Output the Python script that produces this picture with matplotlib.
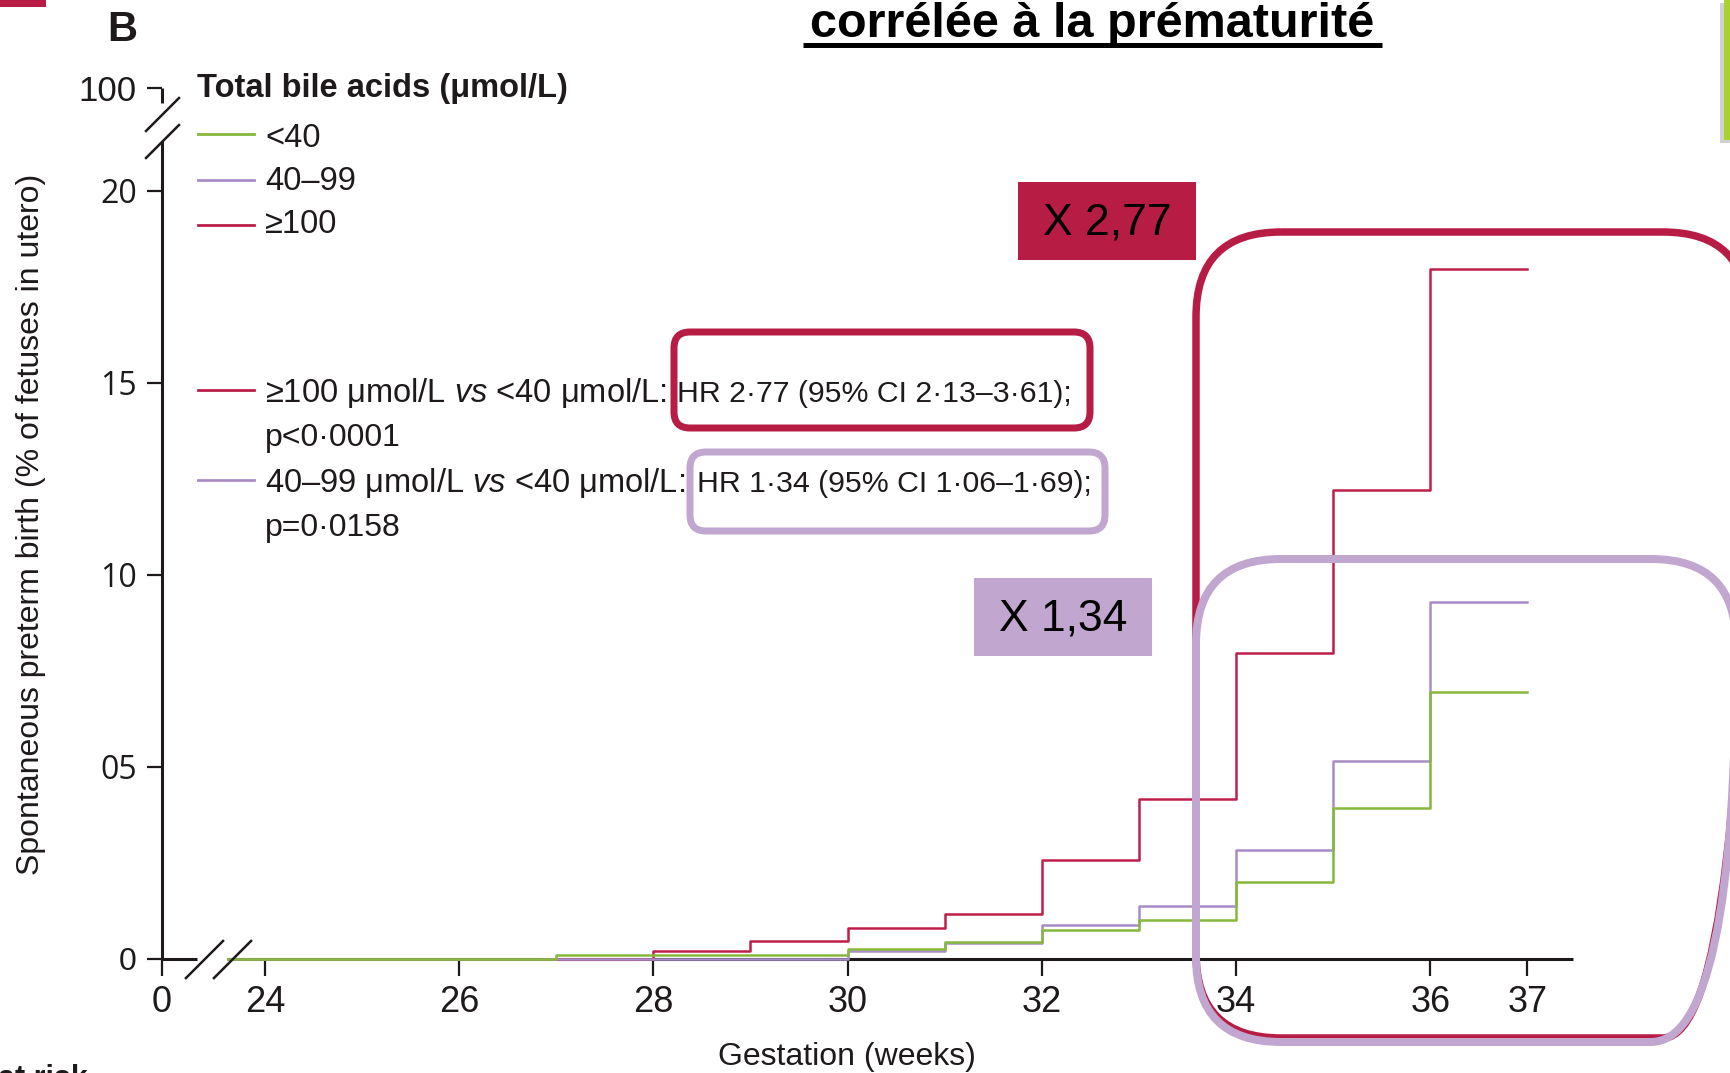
import matplotlib
matplotlib.use('Agg')
import matplotlib.pyplot as plt
from matplotlib.patches import FancyBboxPatch, Rectangle

plt.rcParams['font.family'] = ['Liberation Sans', 'DejaVu Sans']
plt.rcParams['mathtext.fontset'] = 'custom'
plt.rcParams['mathtext.it'] = 'Liberation Sans:italic'
plt.rcParams['mathtext.rm'] = 'Liberation Sans'

W, H = 1731, 1073

# --- données : % cumulé de prématurité spontanée par semaine de gestation ---
semaines_40 = [23.62, 27, 28, 29, 30, 31, 32, 33, 34, 35, 36, 37]
tba_40 = [0, 0.10, 0.10, 0.10, 0.26, 0.45, 0.75, 1.02, 2.01, 3.92, 6.96, 6.96]

semaines_40_99 = [23.62, 30, 31, 32, 33, 34, 35, 36, 37]
tba_40_99 = [0, 0.21, 0.42, 0.88, 1.38, 2.84, 5.16, 9.30, 9.30]

semaines_100 = [23.62, 27, 28, 29, 30, 31, 32, 33, 34, 35, 36, 37]
tba_100 = [0, 0, 0.21, 0.46, 0.80, 1.16, 2.58, 4.16, 7.96, 12.20, 17.96, 17.96]

groupes = ['<40', '40–99', '≥100']
couleurs = ['#86B83C', '#A88CC8', '#BF1E4A']

x_ticks = [22.94, 24, 26, 28, 30, 32, 34, 36, 37]
x_labels = ['0', '24', '26', '28', '30', '32', '34', '36', '37']
y_ticks = [0, 5, 10, 15, 20, 22.68]
y_labels = ['0', '05', '10', '15', '20', '100']

comparaisons = ['≥100 μmol/L $vs$ <40 μmol/L:', '40–99 μmol/L $vs$ <40 μmol/L:']
hazard_ratios = ['HR 2·77 (95% CI 2·13–3·61);', 'HR 1·34 (95% CI 1·06–1·69);']
p_valeurs = ['p<0·0001', 'p=0·0158']
ratios = ['X 2,77', 'X 1,34']

ROUGE = '#B71C45'
MAUVE = '#C1A6CF'
NOIR = '#1E1A1B'

fig = plt.figure(figsize=(W / 100, H / 100), dpi=100)

# ----------------------
# courbes de Kaplan-Meier
# ----------------------
ax = fig.add_axes([162 / W, 1 - 959 / H, (1573 - 162) / W, (959 - 88) / H])
ax.set_xlim(22.94, 37.47)
ax.set_ylim(0, 22.68)
ax.patch.set_alpha(0)
for s in ax.spines.values():
    s.set_visible(False)

ax.step(semaines_100, tba_100, where='post', color=couleurs[2], lw=1.8, clip_on=False, zorder=3)
ax.step(semaines_40_99, tba_40_99, where='post', color=couleurs[1], lw=1.8, clip_on=False, zorder=4)
ax.step(semaines_40, tba_40, where='post', color=couleurs[0], lw=1.8, clip_on=False, zorder=5)

# axes avec coupures
kw = dict(color=NOIR, lw=2.2, clip_on=False, zorder=2, solid_capstyle='butt')
ax.plot([22.94, 23.30], [0, 0], **kw)
ax.plot([23.62, 37.47], [0, 0], **kw)
ax.plot([22.94, 22.94], [0, 21.3], **kw)
ax.plot([22.94, 22.94], [22.3, 22.68], **kw)
slash = [(-1, -1), (1, 1)]
ax.plot([23.37, 23.66], [0, 0], ls='none', marker=slash, ms=28, mew=1.8,
        color=NOIR, clip_on=False, zorder=6)
ax.plot([22.94, 22.94], [21.3, 22.0], ls='none', marker=slash, ms=25, mew=1.8,
        color=NOIR, clip_on=False, zorder=6)

ax.set_xticks(x_ticks)
ax.set_xticklabels(x_labels)
ax.set_yticks(y_ticks)
ax.set_yticklabels(y_labels)
ax.tick_params(axis='x', length=12, width=1.6, pad=7, labelsize=26, colors=NOIR)
ax.tick_params(axis='y', length=11, width=1.6, pad=7, labelsize=23, colors=NOIR)
for lbl in ax.get_yticklabels():
    if lbl.get_text() in ('05', '10', '15', '20'):
        lbl.set_family(['Open Sans', 'DejaVu Sans'])
    elif lbl.get_text() == '100':
        lbl.set_fontsize(25)

# ----------------------
# textes et encadrés
# ----------------------
ov = fig.add_axes([0, 0, 1, 1], zorder=10)
ov.set_xlim(0, W)
ov.set_ylim(H, 0)
ov.axis('off')
ov.patch.set_alpha(0)

ov.text(1092, 37, 'corrélée à la prématurité', fontsize=35, weight='bold',
        ha='center', va='baseline', color='black')
ov.plot([803, 1382], [44.5, 44.5], color='black', lw=3.6, solid_capstyle='butt')

ov.add_patch(Rectangle((0, 0), 46, 7, color=ROUGE, lw=0))
ov.add_patch(Rectangle((1720, 3), 11, 140, color='#999999', alpha=0.45, lw=0))
ov.add_patch(Rectangle((1724, 0), 7, 140, color='#A9D22E', lw=0))

ov.text(122, 30, 'B', fontsize=30, weight='bold', ha='center', va='center', color=NOIR)

ov.text(197, 97, 'Total bile acids (μmol/L)', fontsize=23.5, weight='bold', va='baseline', color=NOIR)
for i, (g, c) in enumerate(zip(groupes, couleurs)):
    ov.plot([198, 254], [134 + 45.5 * i] * 2, color=c, lw=2)
    ov.text(265, 147 + 43 * i, g, fontsize=23.5, va='baseline', color=NOIR)

x_hr = [677, 697]
for i, (txt, hr, pv, c) in enumerate(zip(comparaisons, hazard_ratios, p_valeurs,
                                         [couleurs[2], couleurs[1]])):
    yb = 402 + 90 * i
    ov.plot([198, 254], [yb - 12, yb - 12], color=c, lw=2)
    ov.text(265, yb, txt, fontsize=23.5, va='baseline', color=NOIR)
    ov.text(x_hr[i], yb, hr, fontsize=21.8, va='baseline', color=NOIR)
    ov.text(265, yb + 44, pv, fontsize=23, va='baseline', color=NOIR)

ov.text(31, 524, 'Spontaneous preterm birth (% of fetuses in utero)', fontsize=23,
        rotation=90, ha='center', va='center', color=NOIR)
ov.text(847, 1057, 'Gestation (weeks)', fontsize=23, ha='center', va='center', color=NOIR)
ov.text(-2, 1087, 'at risk', fontsize=22, weight='bold', va='baseline', color=NOIR)


def encadre(x0, y0, x1, y1, couleur, r, ep):
    ov.add_patch(FancyBboxPatch((x0, y0), x1 - x0, y1 - y0,
                                boxstyle=f'round,pad=0,rounding_size={r}',
                                fill=False, ec=couleur, lw=ep * 0.72, clip_on=False))


encadre(674, 332, 1090, 428, ROUGE, 16, 7)
encadre(690, 452, 1105, 531, MAUVE, 16, 7)
encadre(1196, 232, 1748, 1038, ROUGE, 85, 7.5)
encadre(1196, 559, 1736, 1042, MAUVE, 85, 8)

for (x0, y0, x1, y1), couleur, txt in zip([(1018, 182, 1196, 260), (974, 578, 1152, 656)],
                                         [ROUGE, MAUVE], ratios):
    ov.add_patch(Rectangle((x0, y0), x1 - x0, y1 - y0, color=couleur, lw=0))
    ov.text((x0 + x1) / 2, (y0 + y1) / 2 + 2, txt, fontsize=32, ha='center', va='center',
            color='black')

fig.savefig('out.png', dpi=100)
plt.close(fig)
